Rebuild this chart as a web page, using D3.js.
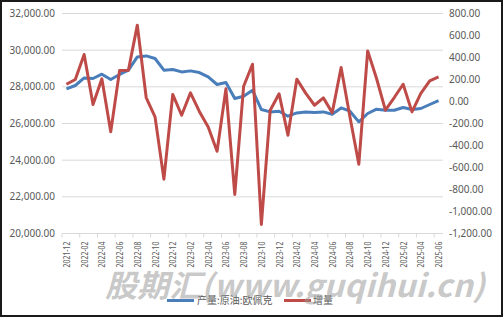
<!DOCTYPE html>
<html>
<head>
<meta charset="utf-8">
<script src="https://cdn.jsdelivr.net/npm/d3@7"></script>
<style>
body { margin: 0; background: #fff; }
svg { display: block; }
</style>
</head>
<body>
<div id="root"></div>
<script>
const months = [
    '2021-12', '2022-01', '2022-02', '2022-03', '2022-04', '2022-05', '2022-06', '2022-07',
    '2022-08', '2022-09', '2022-10', '2022-11', '2022-12', '2023-01', '2023-02', '2023-03',
    '2023-04', '2023-05', '2023-06', '2023-07', '2023-08', '2023-09', '2023-10', '2023-11',
    '2023-12', '2024-01', '2024-02', '2024-03', '2024-04', '2024-05', '2024-06', '2024-07',
    '2024-08', '2024-09', '2024-10', '2024-11', '2024-12', '2025-01', '2025-02', '2025-03',
    '2025-04', '2025-05', '2025-06'
];
// 产量 (left axis)
const output = [
    27887, 28072, 28487, 28454, 28689, 28400, 28672, 28907,
    29633, 29687, 29545, 28907, 28945, 28815, 28870, 28780,
    28540, 28127, 28236, 27363, 27489, 27816, 26763, 26633,
    26670, 26398, 26578, 26633, 26600, 26633, 26507, 26850,
    26670, 26087, 26545, 26780, 26725, 26725, 26872, 26763,
    26818, 27036, 27254
];
// 增量 (right axis)
const change = [
    157, 200, 427, -27, 206, -276, 282, 285,
    694, 36, -140, -706, 64, -125, 79, -90,
    -231, -452, 115, -845, 139, 339, -1118, -79,
    70, -306, 203, 76, -34, 33, -103, 309,
    -140, -570, 460, 209, -79, 36, 157, -94,
    73, 188, 224
];
const leftTicks = [20000, 22000, 24000, 26000, 28000, 30000, 32000];
const rightTicks = [-1200, -1000, -800, -600, -400, -200, 0, 200, 400, 600, 800];
const seriesNames = ['产量:原油:欧佩克', '增量'];
const colors = ['#4a7ebb', '#be4b48'];

const width = 504;
const height = 320;
const plot = {left: 62, right: 443, top: 13.5, bottom: 233.5};
const textColor = '#595959';

const fmt = d3.formatLocale({decimal: '.', thousands: ',', grouping: [3], currency: ['', ''], minus: '-'})
    .format(',.2f');

const x = d3.scaleBand()
    .domain(months)
    .range([plot.left, plot.right]);
const cx = d => x(d) + x.bandwidth() / 2;
const yLeft = d3.scaleLinear()
    .domain([20000, 32000])
    .range([plot.bottom, plot.top]);
const yRight = d3.scaleLinear()
    .domain([-1200, 800])
    .range([plot.bottom, plot.top]);

const svg = d3.select('#root')
    .append('svg')
    .attr('width', width)
    .attr('height', height)
    .style('font-family', '"Noto Sans", "Open Sans", sans-serif');

svg.append('rect')
    .attr('width', width)
    .attr('height', height)
    .attr('fill', '#fff');

// gridlines from the left axis
svg.append('g')
    .selectAll('line')
    .data(leftTicks.slice(1))
    .join('line')
    .attr('x1', plot.left)
    .attr('x2', plot.right)
    .attr('y1', d => yLeft(d))
    .attr('y2', d => yLeft(d))
    .attr('stroke', '#d9d9d9')
    .attr('stroke-width', 1);

// left labels
svg.append('g')
    .selectAll('text')
    .data(leftTicks)
    .join('text')
    .attr('x', 55)
    .attr('y', d => yLeft(d))
    .attr('dy', '0.35em')
    .attr('text-anchor', 'end')
    .attr('font-size', 10)
    .attr('fill', textColor)
    .text(d => fmt(d));

// right labels
svg.append('g')
    .selectAll('text')
    .data(rightTicks)
    .join('text')
    .attr('x', 449)
    .attr('y', d => yRight(d))
    .attr('dy', '0.35em')
    .attr('text-anchor', 'start')
    .attr('font-size', 10)
    .attr('fill', textColor)
    .text(d => fmt(d));

// x axis line + ticks between categories, every two months
const xAxis = svg.append('g');
xAxis.append('line')
    .attr('x1', plot.left)
    .attr('x2', plot.right)
    .attr('y1', plot.bottom)
    .attr('y2', plot.bottom)
    .attr('stroke', '#d9d9d9');
const tickMonths = months.filter((d, i) => i % 2 === 0);
xAxis.selectAll('line.tick')
    .data(tickMonths)
    .join('line')
    .attr('class', 'tick')
    .attr('x1', d => x(d))
    .attr('x2', d => x(d))
    .attr('y1', plot.bottom)
    .attr('y2', plot.bottom + 4)
    .attr('stroke', '#d9d9d9');
xAxis.selectAll('text')
    .data(tickMonths)
    .join('text')
    .attr('transform', d => `translate(${cx(d) + 3.5},${plot.bottom + 8}) rotate(-90)`)
    .attr('text-anchor', 'end')
    .attr('font-size', 9)
    .attr('textLength', 26)
    .attr('lengthAdjust', 'spacingAndGlyphs')
    .attr('fill', textColor)
    .text(d => d);

// series
const lineLeft = d3.line()
    .x((d, i) => cx(months[i]))
    .y(d => yLeft(d));
const lineRight = d3.line()
    .x((d, i) => cx(months[i]))
    .y(d => yRight(d));

svg.append('path')
    .datum(output)
    .attr('d', lineLeft)
    .attr('fill', 'none')
    .attr('stroke', colors[0])
    .attr('stroke-width', 3)
    .attr('stroke-linejoin', 'round');
svg.append('path')
    .datum(change)
    .attr('d', lineRight)
    .attr('fill', 'none')
    .attr('stroke', colors[1])
    .attr('stroke-width', 3)
    .attr('stroke-linejoin', 'round');

// legend
const legendItems = [
    {name: seriesNames[0], color: colors[0], x: 167, w: 27, tx: 197},
    {name: seriesNames[1], color: colors[1], x: 284, w: 27, tx: 313}
];
const legend = svg.append('g');
legend.selectAll('line')
    .data(legendItems)
    .join('line')
    .attr('x1', d => d.x)
    .attr('x2', d => d.x + d.w)
    .attr('y1', 300.5)
    .attr('y2', 300.5)
    .attr('stroke', d => d.color)
    .attr('stroke-width', 3);
legend.selectAll('text')
    .data(legendItems)
    .join('text')
    .attr('x', d => d.tx)
    .attr('y', 300.5)
    .attr('dy', '0.35em')
    .attr('font-size', 10)
    .attr('font-family', '"Noto Sans CJK SC", sans-serif')
    .attr('fill', textColor)
    .text(d => d.name);

// watermark
svg.append('text')
    .attr('x', 105)
    .attr('y', 297)
    .attr('font-size', 31)
    .attr('font-weight', 'bold')
    .attr('font-style', 'italic')
    .attr('font-family', '"Noto Sans CJK SC", "DejaVu Sans", sans-serif')
    .attr('textLength', 380)
    .attr('lengthAdjust', 'spacingAndGlyphs')
    .attr('fill', '#9a9a9a')
    .attr('fill-opacity', 0.55)
    .text('股期汇(www.guqihui.cn)');

// frame
svg.append('rect')
    .attr('x', 1)
    .attr('y', 1)
    .attr('width', 501)
    .attr('height', 315)
    .attr('fill', 'none')
    .attr('stroke', '#1a1a1a')
    .attr('stroke-width', 2);
</script>
</body>
</html>
